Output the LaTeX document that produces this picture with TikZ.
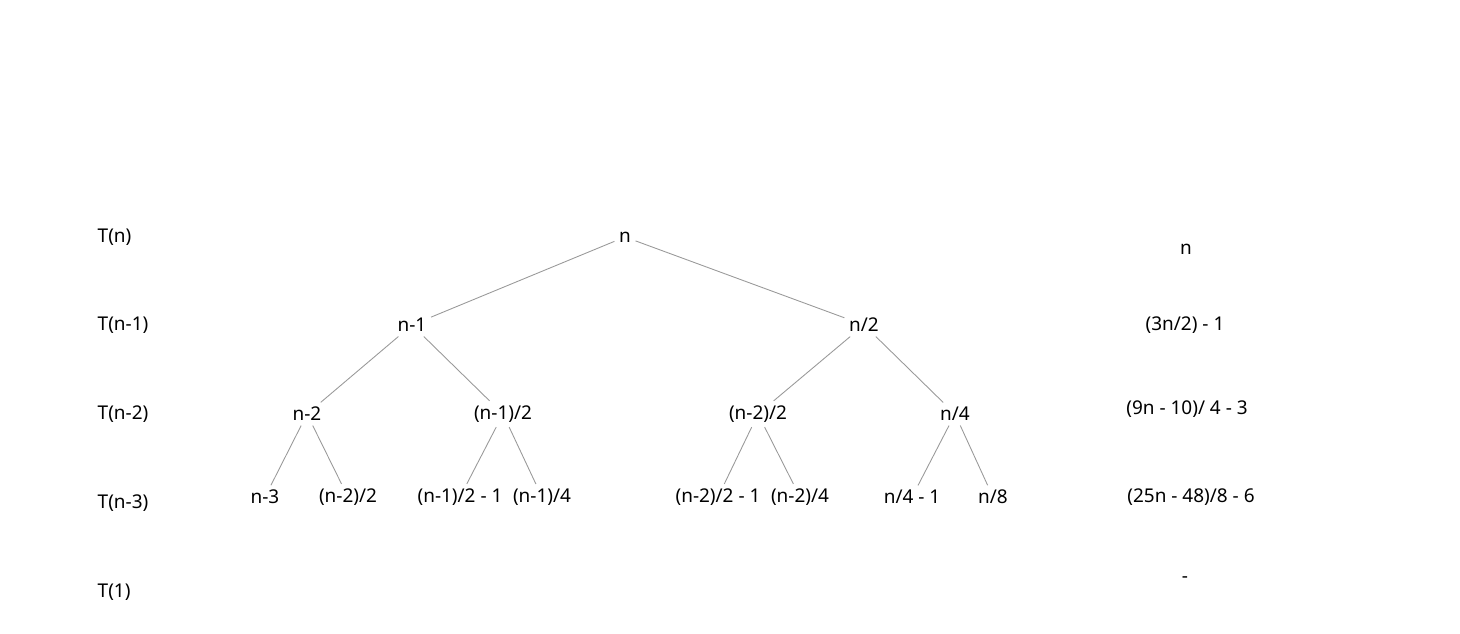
\documentclass[tikz,border=0pt]{standalone}
\usepackage{fontspec}
\setmainfont{Noto Sans}
\usepackage{tikz}
\usetikzlibrary{positioning, calc}

\begin{document}
\begin{tikzpicture}[
    x=0.02cm, y=-0.02cm,
    term/.style={font=\fontsize{10.8}{13}\selectfont, inner sep=2.5pt},
    level/.style={term, anchor=west},
    cost/.style={term},
    edge/.style={draw=black!40, line width=0.5pt}
]
\useasboundingbox (0,0) rectangle (1460,634);

% Level labels
\node[level] (ln)  at (93,237) {T(n)};
\node[level] (ln1) at (93,325) {T(n-1)};
\node[level] (ln2) at (93,414) {T(n-2)};
\node[level] (ln3) at (93,503) {T(n-3)};
\node[level] (l1)  at (93,592) {T(1)};

% Tree nodes
\node[term] (root) at (625,237) {n};

\node[term] (a) at (412,325) {n-1};
\node[term] (b) at (864,325) {n/2};

\node[term] (aa) at (307,414) {n-2};
\node[term] (ab) at (503,414) {(n-1)/2};
\node[term] (ba) at (758,414) {(n-2)/2};
\node[term] (bb) at (955,414) {n/4};

\node[term] (aaa) at (265,497) {n-3};
\node[term] (aab) at (348,497) {(n-2)/2};
\node[term] (aba) at (460,497) {(n-1)/2 - 1};
\node[term] (abb) at (542,497) {(n-1)/4};
\node[term] (baa) at (718,497) {(n-2)/2 - 1};
\node[term] (bab) at (800,497) {(n-2)/4};
\node[term] (bba) at (912,497) {n/4 - 1};
\node[term] (bbb) at (993,497) {n/8};

% Level costs
\node[cost] (cn)  at (1186,249) {n};
\node[cost] (cn1) at (1185,325) {(3n/2) - 1};
\node[cost] (cn2) at (1187,409) {(9n - 10)/ 4 - 3};
\node[cost] (cn3) at (1191,497) {(25n - 48)/8 - 6};
\node[cost] (c1)  at (1185,580) {-};

% Edges
\draw[edge] (root) -- (a);
\draw[edge] (root) -- (b);
\draw[edge] (a) -- (aa);
\draw[edge] (a) -- (ab);
\draw[edge] (b) -- (ba);
\draw[edge] (b) -- (bb);
\draw[edge] (aa) -- (aaa);
\draw[edge] (aa) -- (aab);
\draw[edge] (ab) -- (aba);
\draw[edge] (ab) -- (abb);
\draw[edge] (ba) -- (baa);
\draw[edge] (ba) -- (bab);
\draw[edge] (bb) -- (bba);
\draw[edge] (bb) -- (bbb);

\end{tikzpicture}
\end{document}
